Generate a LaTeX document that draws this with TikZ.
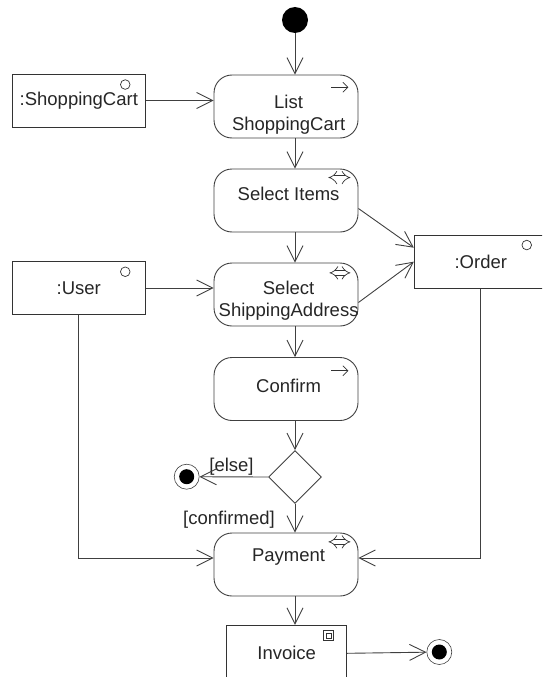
\documentclass[tikz,border=0pt]{standalone}
\usepackage{fontspec}
\setmainfont{Liberation Sans}
\usetikzlibrary{arrows.meta,shapes.geometric}

\begin{document}
\begin{tikzpicture}[
    x=1pt, y=-1pt,
    every node/.style={font=\fontsize{18.5}{22}\selectfont, text=black!85},
    action/.style={draw=black!75, line width=0.9pt, rectangle, rounded corners=18pt, minimum width=144pt, minimum height=63pt},
    object/.style={draw=black!80, line width=0.9pt, rectangle, minimum width=133pt, minimum height=53pt, inner sep=0pt},
    initial/.style={circle, fill=black, minimum size=26pt, inner sep=0pt},
    final/.style={circle, draw=black!75, line width=0.6pt, minimum size=25pt, inner sep=0pt,
      path picture={\fill[black] (path picture bounding box.center) circle (7.5pt);}},
    decision/.style={diamond, draw=black!75, line width=0.9pt, minimum width=53pt, minimum height=53pt, inner sep=0pt},
    flow/.style={draw=black!75, line width=0.9pt, -{Straight Barb[length=16pt, width=16pt]}},
    glyph/.style={draw=black!80, line width=0.7pt},
    both/.style={glyph, double, double distance=4pt, {Implies[length=5pt]}-{Implies[length=5pt]}},
    ]
  \useasboundingbox (0,0) rectangle (542,677);
  \clip (0,0) rectangle (542,677);

  % nodes
  \node[initial] (start) at (295,20) {};
  \node[object] (cart) at (78.8,100.5) {:ShoppingCart};
  \node[action, label={[xshift=2.6pt, yshift=-8.5pt, align=center]center:{List\\ShoppingCart}}] (list) at (286,106.5) {};
  \node[action, label={[xshift=2.6pt, yshift=6.5pt]center:Select Items}] (items) at (286,200.5) {};
  \node[object] (order) at (480.8,261.7) {:Order};
  \node[object] (user) at (78.8,288) {:User};
  \node[action, label={[xshift=2.6pt, yshift=-6pt, align=center]center:{Select\\ShippingAddress}}] (ship) at (286,294.5) {};
  \node[action, label={[xshift=2.6pt, yshift=3pt]center:Confirm}] (confirm) at (286,389) {};
  \node[decision] (branch) at (295,477) {};
  \node[final] (cancel) at (186.7,476.7) {};
  \node (elselbl) at (231.5,467) {[else]};
  \node (oklbl) at (229,520) {[confirmed]};
  \node[action, label={[xshift=2.6pt, yshift=7.5pt]center:Payment}] (pay) at (286,564.5) {};
  \node[object, minimum width=120pt, minimum height=56pt] (inv) at (286.7,653.3) {Invoice};
  \node[final] (done) at (439.3,652) {};

  % little marks in the corners
  \draw[glyph] ([xshift=-20.5pt,yshift=-11pt]cart.north east) circle (4.8pt);
  \draw[glyph] ([xshift=-20.5pt,yshift=-10.7pt]user.north east) circle (4.8pt);
  \draw[glyph] ([xshift=-21pt,yshift=-10.3pt]order.north east) circle (4.8pt);
  \coordinate (invmark) at ([xshift=-18.7pt,yshift=-10.7pt]inv.north east);
  \draw[glyph] ([shift={(-5,-5)}]invmark) rectangle ([shift={(5,5)}]invmark);
  \draw[glyph] ([shift={(-2.5,-2.5)}]invmark) rectangle ([shift={(2.5,2.5)}]invmark);
  \draw[glyph, -{Straight Barb[length=5pt, width=10pt]}] ([xshift=-27pt,yshift=-12.7pt]list.north east) -- ++(17,0);
  \draw[glyph, -{Straight Barb[length=5pt, width=10pt]}] ([xshift=-27pt,yshift=-13.7pt]confirm.north east) -- ++(17,0);
  \draw[both] ([xshift=-30pt,yshift=-9pt]items.north east) -- ++(22,0);
  \draw[both] ([xshift=-29pt,yshift=-10.3pt]ship.north east) -- ++(21,0);
  \draw[both] ([xshift=-30pt,yshift=-9.3pt]pay.north east) -- ++(22,0);

  % flows
  \draw[flow] (start) -- (start |- list.north);
  \draw[flow] (cart) -- (cart -| list.west);
  \draw[flow] (start |- list.south) -- (start |- items.north);
  \draw[flow] (start |- items.south) -- (start |- ship.north);
  \draw[flow] (start |- ship.south) -- (start |- confirm.north);
  \draw[flow] (start |- confirm.south) -- (branch.north);
  \draw[flow] (user) -- (user -| ship.west);
  \draw[flow] ([yshift=-8pt]items.east) -- ([yshift=14pt]order.west);
  \draw[flow] ([yshift=-8pt]ship.east) -- (order.west);
  \draw[flow] (branch.west) -- (cancel);
  \draw[flow] (branch.south) -- (branch |- pay.north);
  \draw[flow] (user.south) |- ([yshift=6.5pt]pay.west);
  \draw[flow] (order.south) |- ([yshift=6.5pt]pay.east);
  \draw[flow] (start |- pay.south) -- (start |- inv.north);
  \draw[flow] (inv.east) -- (done);
\end{tikzpicture}
\end{document}
